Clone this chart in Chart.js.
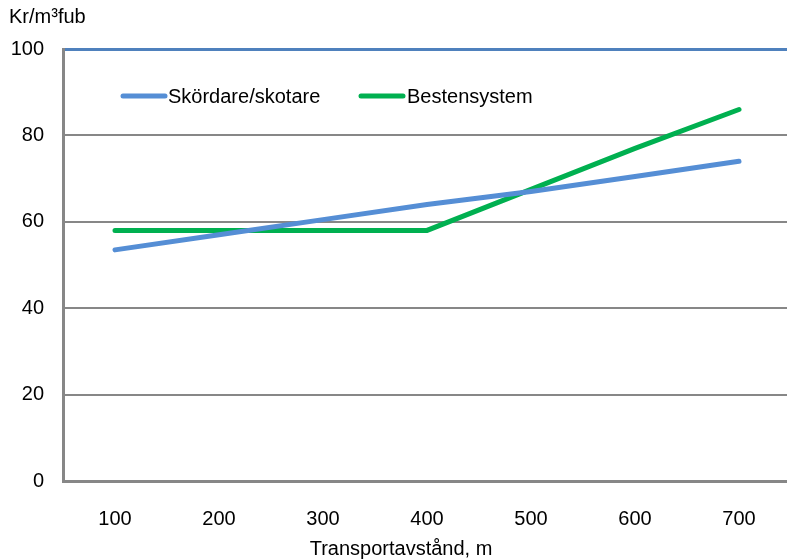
<!DOCTYPE html>
<html>
<head>
<meta charset="utf-8">
<script src="https://cdn.jsdelivr.net/npm/chart.js@4.4.7/dist/chart.umd.min.js"></script>
<style>
  html, body { margin: 0; padding: 0; background: #fff; overflow: hidden; }
  #wrap { position: relative; width: 792px; height: 560px; }
</style>
</head>
<body>
<div id="wrap"><canvas id="chart"></canvas></div>
<script>
// distances (m) on the x axis
const distances = ['100', '200', '300', '400', '500', '600', '700'];
// cost, Kr/m³fub
const skordareSkotare = [53.5, 57, 60.5, 64, 67, 70.5, 74];
const bestensystem = [58, 58, 58, 58, 67.5, 77, 86];
const yTicks = [0, 20, 40, 60, 80, 100];

const FONT = 'Arial, "Liberation Sans", sans-serif';
const SIZE = 20;

// draws the in-plot legend and axis titles
const textPlugin = {
    id: 'textPlugin',
    afterDraw(chart) {
        const ctx = chart.ctx;
        ctx.save();
        ctx.font = SIZE + 'px ' + FONT;
        ctx.fillStyle = '#000';
        ctx.textBaseline = 'middle';
        ctx.textAlign = 'left';
        ctx.fillText('Kr/m³fub', 9, 17);

        const items = [
            { ds: 0, x0: 123, x1: 165, tx: 168 },
            { ds: 1, x0: 361, x1: 403, tx: 407 }
        ];
        items.forEach(it => {
            const d = chart.data.datasets[it.ds];
            ctx.strokeStyle = d.borderColor;
            ctx.lineWidth = 5;
            ctx.lineCap = 'round';
            ctx.beginPath();
            ctx.moveTo(it.x0, 96);
            ctx.lineTo(it.x1, 96);
            ctx.stroke();
            ctx.fillText(d.label, it.tx, 97);
        });

        ctx.textAlign = 'center';
        ctx.fillText('Transportavstånd, m', 401, 549);
        ctx.restore();
    }
};

new Chart(document.getElementById('chart'), {
    type: 'line',
    data: {
        labels: distances,
        datasets: [
            {
                label: 'Skördare/skotare',
                data: skordareSkotare,
                borderColor: '#558ed5',
                borderWidth: 5,
                borderCapStyle: 'round',
                pointRadius: 0,
                tension: 0
            },
            {
                label: 'Bestensystem',
                data: bestensystem,
                borderColor: '#00b050',
                borderWidth: 5,
                borderCapStyle: 'round',
                pointRadius: 0,
                tension: 0
            }
        ]
    },
    options: {
        responsive: true,
        maintainAspectRatio: false,
        animation: false,
        layout: { padding: { top: 49, left: 0, right: 1, bottom: 0 } },
        plugins: {
            legend: { display: false },
            tooltip: { enabled: false }
        },
        scales: {
            x: {
                offset: true,
                grid: { display: false, drawTicks: false },
                border: { display: true, color: '#878787', width: 3 },
                ticks: { color: '#000', font: { family: FONT, size: SIZE }, padding: 26, maxRotation: 0 },
                afterFit(scale) { scale.height = 79; }
            },
            y: {
                min: 0,
                max: 100,
                afterBuildTicks(scale) { scale.ticks = yTicks.map(v => ({ value: v })); },
                grid: {
                    drawTicks: false,
                    lineWidth: c => c.tick && c.tick.value === 100 ? 3 : 2,
                    color: c => c.tick && c.tick.value === 100 ? '#4f81bd' : '#878787'
                },
                border: { display: true, color: '#878787', width: 3 },
                ticks: { color: '#000', font: { family: FONT, size: SIZE }, padding: 19 },
                afterFit(scale) { scale.width = 63; }
            }
        }
    },
    plugins: [textPlugin]
});
</script>
</body>
</html>
